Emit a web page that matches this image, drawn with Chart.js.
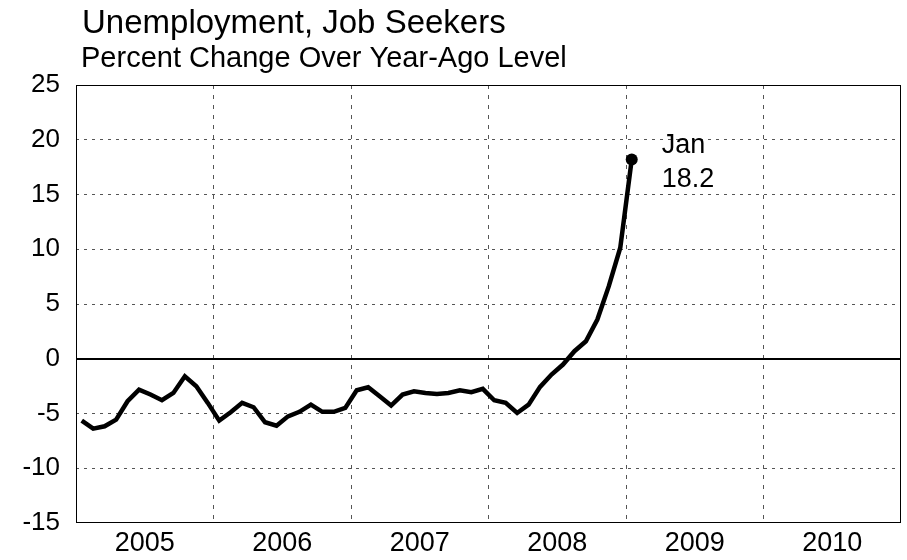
<!DOCTYPE html>
<html>
<head>
<meta charset="utf-8">
<script src="https://cdn.jsdelivr.net/npm/chart.js@4.4.1/dist/chart.umd.min.js"></script>
<style>
  html, body { margin: 0; padding: 0; background: #fff; }
  #wrap { width: 907px; height: 560px; }
</style>
</head>
<body>
<div id="wrap"><canvas id="jobs" width="907" height="560"></canvas></div>
<script>
const titleText = "Unemployment, Job Seekers";
const subtitleText = "Percent Change Over Year-Ago Level";
const years = ["2005", "2006", "2007", "2008", "2009", "2010"];
const yTicks = [-15, -10, -5, 0, 5, 10, 15, 20, 25];

// monthly, Jan 2005 .. Jan 2009
const pct2005 = [-5.65, -6.38, -6.17, -5.56, -3.88, -2.82, -3.27, -3.79, -3.12, -1.60, -2.51, -4.03];
const pct2006 = [-5.65, -4.89, -4.03, -4.43, -5.80, -6.11, -5.26, -4.85, -4.19, -4.85, -4.85, -4.49];
const pct2007 = [-2.88, -2.61, -3.43, -4.28, -3.27, -2.97, -3.12, -3.21, -3.12, -2.88, -3.06, -2.75];
const pct2008 = [-3.79, -4.03, -4.95, -4.19, -2.57, -1.44, -0.53, 0.69, 1.60, 3.58, 6.63, 10.14];
const pct2009 = [18.2];

const lastLabel = ["Jan", "18.2"];

const values = [].concat(pct2005, pct2006, pct2007, pct2008, pct2009);
// month i sits in the middle of its month slot
const points = values.map((v, i) => ({ x: i + 0.5, y: v }));
const lastIdx = points.length - 1;

const FONT = "'Liberation Sans', Arial, sans-serif";

const extras = {
  id: "extras",
  beforeDraw(chart) {
    const c = chart.ctx;
    c.save();
    c.fillStyle = "#000";
    c.textBaseline = "alphabetic";
    c.font = "33px " + FONT;
    c.fillText(titleText, 82, 33);
    c.font = "29px " + FONT;
    c.fillText(subtitleText, 81, 67);
    c.restore();
  },
  beforeDatasetsDraw(chart) {
    // solid zero line
    const c = chart.ctx;
    const a = chart.chartArea;
    const y0 = Math.round(chart.scales.y.getPixelForValue(0));
    c.save();
    c.strokeStyle = "#000";
    c.lineWidth = 2;
    c.beginPath();
    c.moveTo(a.left, y0);
    c.lineTo(a.right, y0);
    c.stroke();
    c.restore();
  },
  afterDatasetsDraw(chart) {
    const c = chart.ctx;
    const a = chart.chartArea;
    const xs = chart.scales.x, ys = chart.scales.y;
    c.save();
    // frame
    c.strokeStyle = "#000";
    c.lineWidth = 1;
    c.strokeRect(a.left + 0.5, a.top + 0.5, a.right - a.left - 1, a.bottom - a.top - 1);
    // last value note
    const px = xs.getPixelForValue(points[lastIdx].x);
    const py = ys.getPixelForValue(points[lastIdx].y);
    c.fillStyle = "#000";
    c.font = "27px " + FONT;
    c.textBaseline = "alphabetic";
    c.fillText(lastLabel[0], px + 30, py - 6);
    c.fillText(lastLabel[1], px + 30, py + 28);
    c.restore();
  }
};

new Chart(document.getElementById("jobs"), {
  type: "line",
  data: {
    datasets: [{
      data: points,
      borderColor: "#000",
      backgroundColor: "#000",
      borderWidth: 4.5,
      tension: 0,
      fill: false,
      pointRadius: (ctx) => ctx.dataIndex === lastIdx ? 6 : 0,
      pointHoverRadius: 0,
      pointBorderWidth: 0
    }]
  },
  options: {
    responsive: false,
    animation: false,
    events: [],
    layout: { padding: { top: 85, right: 4, left: 0, bottom: 0 } },
    plugins: {
      legend: { display: false },
      title: { display: false },
      tooltip: { enabled: false }
    },
    scales: {
      x: {
        type: "linear",
        min: 0,
        max: 72,
        afterBuildTicks: (s) => { s.ticks = [0, 6, 12, 18, 24, 30, 36, 42, 48, 54, 60, 66, 72].map(v => ({ value: v })); },
        afterFit: (s) => { s.height = 37; },
        border: { display: false, dash: [4, 6] },
        grid: {
          drawTicks: false,
          color: (ctx) => {
            const v = ctx.tick ? ctx.tick.value : -1;
            return (v % 12 === 0 && v > 0 && v < 72) ? "#555" : "rgba(0,0,0,0)";
          },
          lineWidth: 1
        },
        ticks: {
          autoSkip: false,
          maxRotation: 0,
          padding: 4,
          color: "#000",
          font: { family: FONT, size: 27 },
          callback: (v) => (v % 12 === 6 ? years[(v - 6) / 12] : "")
        }
      },
      y: {
        min: -15,
        max: 25,
        afterBuildTicks: (s) => { s.ticks = yTicks.map(v => ({ value: v })); },
        afterFit: (s) => { s.width = 76; },
        border: { display: false, dash: [3, 5] },
        grid: {
          drawTicks: false,
          color: (ctx) => {
            const v = ctx.tick ? ctx.tick.value : NaN;
            if (v === 0 || v === -15 || v === 25) return "rgba(0,0,0,0)";
            return "#555";
          },
          lineWidth: 1
        },
        ticks: {
          padding: 16,
          color: "#000",
          font: { family: FONT, size: 26 }
        }
      }
    }
  },
  plugins: [extras]
});
</script>
</body>
</html>
